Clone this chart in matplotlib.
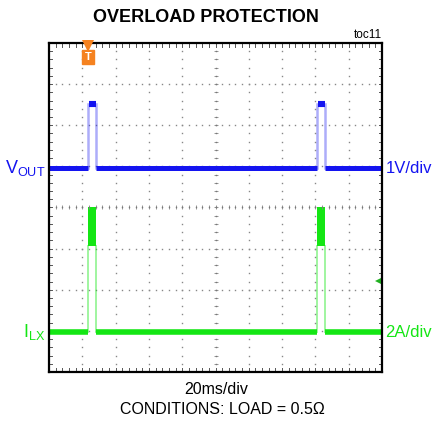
import numpy as np
import matplotlib
matplotlib.use("Agg")
from matplotlib import pyplot as plt

plt.rcParams['font.family'] = ['Liberation Sans', 'DejaVu Sans']
plt.rcParams['mathtext.fontset'] = 'custom'
plt.rcParams['mathtext.rm'] = 'Liberation Sans'

# scope settings / readings
ms_per_div = 20.0
v_per_div = 1.0
a_per_div = 2.0

pulse_start_ms = [23.4, 161.0]
pulse_stop_ms = [28.2, 165.8]

vout_low = 0.0
vout_high = 1.55
ilx_low = 0.0
ilx_valley = 4.2
ilx_peak = 6.1

BLUE = '#1414f0'
GREEN = '#14e614'
ORANGE = '#f58220'

# trace ground positions (in divisions from bottom)
vout_gnd = 4.96
ilx_gnd = 0.97

fig = plt.figure(figsize=(4.32, 4.21), dpi=100)
ax = fig.add_axes([49/432, 49/421, 333/432, 329/421])
ax.set_xlim(0, 10 * ms_per_div)
ax.set_ylim(0, 8)
ax.set_xticks([])
ax.set_yticks([])
for s in ax.spines.values():
    s.set_linewidth(1.6)

def xd(d):
    return d * ms_per_div

# dotted grid
minor_x = np.arange(0, 10.01, 0.2)
minor_y = np.arange(0, 8.01, 0.2)
for gy in range(1, 8):
    if gy == 4:
        continue
    ax.plot(xd(minor_x), np.full_like(minor_x, gy), ls='none', marker='s', ms=1.0, color='#888888', mew=0)
for gx in range(1, 10):
    if gx == 5:
        continue
    ax.plot(np.full_like(minor_y, xd(gx)), minor_y, ls='none', marker='s', ms=1.0, color='#888888', mew=0)

# center cross with ticks
ax.plot(xd(minor_x), np.full_like(minor_x, 4), ls='none', marker='|', ms=3, mew=0.6, color='#888888')
ax.plot(np.full_like(minor_y, xd(5)), minor_y, ls='none', marker='_', ms=3, mew=0.6, color='#888888')
ax.plot(xd(minor_x), np.full_like(minor_x, 4), ls='none', marker='s', ms=1.0, mew=0, color='#777777')
ax.plot(np.full_like(minor_y, xd(5)), minor_y, ls='none', marker='s', ms=1.0, mew=0, color='#777777')

# border ticks (inward)
for x in minor_x:
    ax.plot([xd(x), xd(x)], [0, 0.09], color='#555555', lw=0.7)
    ax.plot([xd(x), xd(x)], [8, 7.91], color='#555555', lw=0.7)
for y in minor_y:
    ax.plot([0, 1.8], [y, y], color='#555555', lw=0.7)
    ax.plot([200, 198.2], [y, y], color='#555555', lw=0.7)

# VOUT trace
vlo = vout_gnd + vout_low / v_per_div
vhi = vout_gnd + vout_high / v_per_div
edges = [0.0] + [v for p in zip(pulse_start_ms, pulse_stop_ms) for v in p] + [10 * ms_per_div]
for i in range(0, len(edges), 2):
    ax.plot([edges[i], edges[i + 1]], [vlo, vlo], color=BLUE, lw=3.6, solid_capstyle='butt')
for a, b in zip(pulse_start_ms, pulse_stop_ms):
    ax.plot([a, a], [vlo, vhi], color=BLUE, lw=1.8, alpha=0.35)
    ax.plot([b, b], [vlo, vhi], color=BLUE, lw=1.8, alpha=0.35)
    ax.plot([a + 0.4, b], [vhi, vhi], color=BLUE, lw=4.4, solid_capstyle='butt')

# ILX trace
ilo = ilx_gnd + ilx_low / a_per_div
ival = ilx_gnd + ilx_valley / a_per_div
ipk = ilx_gnd + ilx_peak / a_per_div
for i in range(0, len(edges), 2):
    ax.plot([edges[i], edges[i + 1]], [ilo, ilo], color=GREEN, lw=4.0, solid_capstyle='butt')
for a, b in zip(pulse_start_ms, pulse_stop_ms):
    ax.plot([a, a], [ilo, ival], color=GREEN, lw=1.4, alpha=0.4)
    ax.plot([b, b], [ilo, ival], color=GREEN, lw=1.4, alpha=0.4)
    ax.fill_between([a, b], ival, ipk, color=GREEN, lw=0)

# trigger markers
ax.text(pulse_start_ms[0], 7.66, 'T', color='white', fontsize=8, fontweight='bold',
        ha='center', va='center', zorder=5,
        bbox=dict(boxstyle='square,pad=0.2', fc=ORANGE, ec=ORANGE))
ax.plot([pulse_start_ms[0]], [7.92], marker='v', ms=8, color=ORANGE, mew=0, clip_on=False, zorder=6)
ax.plot([xd(9.9)], [2.21], marker='<', ms=6, color='#20b020', mew=0, clip_on=False)

# channel labels
ax.text(-0.01, vlo, r'V$_{\mathregular{OUT}}$', transform=ax.get_yaxis_transform(),
        ha='right', va='center', color=BLUE, fontsize=13)
ax.text(1.01, vlo, '1V/div', transform=ax.get_yaxis_transform(),
        ha='left', va='center', color=BLUE, fontsize=12)
ax.text(-0.01, ilo, r'I$_{\mathregular{LX}}$', transform=ax.get_yaxis_transform(),
        ha='right', va='center', color=GREEN, fontsize=13)
ax.text(1.01, ilo, '2A/div', transform=ax.get_yaxis_transform(),
        ha='left', va='center', color=GREEN, fontsize=12)

fig.text(206/432, 1 - 18/421, 'OVERLOAD PROTECTION', ha='center', va='center',
         fontsize=13, fontweight='bold')
fig.text(382/432, 1 - 35/421, 'toc11', ha='right', va='center', fontsize=8.5)
fig.text(216/432, 1 - 390/421, '20ms/div', ha='center', va='center', fontsize=11.5)
fig.text(222/432, 1 - 410/421, 'CONDITIONS: LOAD = 0.5Ω', ha='center', va='center', fontsize=11.5)

fig.savefig('out.png', dpi=100)
